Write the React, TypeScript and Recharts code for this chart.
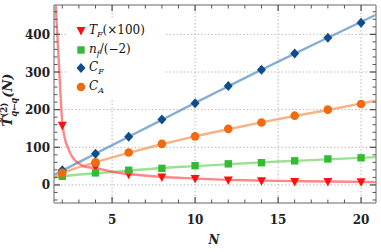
import {
  ComposedChart,
  Legend,
  Line,
  ReferenceLine,
  Scatter,
  XAxis,
  YAxis,
} from "recharts";

// marker points (even N)
const markerN = [2, 4, 6, 8, 10, 12, 14, 16, 18, 20];
const tfMarks = [157, 47, 27, 20, 16, 12, 10, 8, 8, 7];
const nfMarks = [23, 32, 39, 44, 51, 56, 59, 64, 69, 72];
const cfMarks = [39, 83, 128, 174, 217, 263, 306, 349, 391, 431];
const caMarks = [32, 60, 86, 109, 129, 149, 166, 184, 200, 215];

// fitted curves
const fitN = [1.5, 2, 4, 6, 8, 10, 12, 14, 16, 18, 20.9];
const cfFit = [27, 38, 83, 128, 173, 218, 262, 306, 349, 391, 452];
const caFit = [20, 31, 60, 85, 108, 129, 148, 166, 183, 199, 224];
const nfFit = [20, 23, 31, 38, 45, 50, 55, 60, 64, 68, 74];
const tfFitN = [1.5, 1.6, 1.7, 1.8, 1.9, 2, 2.1, 2.2, 2.35, 2.5, 2.75, 3, 3.3, 4, 5, 6, 8, 10, 12, 14, 16, 18, 20.9];
const tfFit = [570, 480, 400, 320, 235, 165, 135, 115, 98, 82, 66, 57, 49, 45, 35, 29, 21, 17, 13.5, 11.5, 10, 9, 7.5];

const xTicks = Array.from({ length: 19 }, (_, i) => i + 2);
const yTicks = Array.from({ length: 26 }, (_, i) => -40 + i * 20);
const xGrid = [5, 10, 15, 20];
const yGrid = [0, 100, 200, 300, 400];

const W = 381;
const H = 252;
const FONT = "DejaVu Serif";
const TICK = "#555";
const FRAME = "#999";

const pts = (xs: number[], ys: number[]) => xs.map((x, i) => ({ x, y: ys[i] }));

const COLORS = {
  tf: { mark: "#ff1010", line: "rgba(255,70,70,0.65)" },
  nf: { mark: "#33bb33", line: "rgba(120,215,110,0.75)" },
  cf: { mark: "#0f4c8a", line: "rgba(80,140,190,0.7)" },
  ca: { mark: "#f06a10", line: "rgba(245,160,100,0.8)" },
};

const DownTri = ({ cx, cy, fill }: any) => (
  <path d={`M${cx - 4.5},${cy - 4} L${cx + 4.5},${cy - 4} L${cx},${cy + 4.5} Z`} fill={fill} />
);
const Sq = ({ cx, cy, fill }: any) => <rect x={cx - 3.7} y={cy - 3.7} width={7.4} height={7.4} fill={fill} />;
const Dia = ({ cx, cy, fill }: any) => (
  <path d={`M${cx},${cy - 5} L${cx + 4.5},${cy} L${cx},${cy + 5} L${cx - 4.5},${cy} Z`} fill={fill} />
);
const Dot = ({ cx, cy, fill }: any) => <circle cx={cx} cy={cy} r={4.3} fill={fill} />;

const tickLen = (major: boolean) => (major ? 6 : 3.5);

// plot box edges (px) — the axes are drawn on these
const PLOT = { left: 54, right: 376, top: 5, bottom: 203 };

const BottomTick = ({ x, payload }: any) => {
  const major = payload.value % 5 === 0;
  const y = PLOT.bottom;
  return (
    <g>
      <line x1={x} x2={x} y1={y} y2={y - tickLen(major)} stroke={TICK} strokeWidth={major ? 1.3 : 1} />
      {major && (
        <text x={x} y={y + 21} textAnchor="middle" fontFamily={FONT} fontWeight="bold" fontSize={12} fill="#222">
          {payload.value}
        </text>
      )}
    </g>
  );
};

const TopTick = ({ x, payload }: any) => {
  const major = payload.value % 5 === 0;
  const y = PLOT.top;
  return <line x1={x} x2={x} y1={y} y2={y + tickLen(major)} stroke={TICK} strokeWidth={major ? 1.3 : 1} />;
};

const LeftTick = ({ y, payload }: any) => {
  const major = payload.value % 100 === 0;
  const x = PLOT.left;
  return (
    <g>
      <line x1={x} x2={x + tickLen(major)} y1={y} y2={y} stroke={TICK} strokeWidth={major ? 1.3 : 1} />
      {major && (
        <text x={x - 4} y={y + 4.5} textAnchor="end" fontFamily={FONT} fontWeight="bold" fontSize={12} fill="#222">
          {payload.value}
        </text>
      )}
    </g>
  );
};

const RightTick = ({ y, payload }: any) => {
  const major = payload.value % 100 === 0;
  const x = PLOT.right;
  return <line x1={x} x2={x - tickLen(major)} y1={y} y2={y} stroke={TICK} strokeWidth={major ? 1.3 : 1} />;
};

const YLabel = () => (
  <text
    transform="translate(12,100) rotate(-90)"
    textAnchor="middle"
    fontFamily={FONT}
    fontWeight="bold"
    fontSize={13}
    fill="#222"
  >
    <tspan fontStyle="italic">T̃</tspan>
    <tspan fontSize={8.5} dy={-5}>(2)</tspan>
    <tspan fontSize={8.5} fontStyle="italic" dx={-14} dy={9.5}>q←q</tspan>
    <tspan dy={-4.5} fontStyle="italic">(N)</tspan>
  </text>
);

const XLabel = () => (
  <text x={214} y={244} textAnchor="middle" fontFamily={FONT} fontWeight="bold" fontStyle="italic" fontSize={12} fill="#222">
    N
  </text>
);

const legendItems = [
  { key: "tf", Icon: DownTri, main: "T", sub: "F", rest: "(×100)" },
  { key: "nf", Icon: Sq, main: "n", sub: "f", rest: "/(−2)" },
  { key: "cf", Icon: Dia, main: "C", sub: "F", rest: "" },
  { key: "ca", Icon: Dot, main: "C", sub: "A", rest: "" },
];

const LegendBox = () => (
  <div style={{ background: "rgba(255,255,255,0.9)", padding: "3px 0" }}>
    {legendItems.map((it) => (
      <div key={it.key} style={{ display: "flex", alignItems: "center", height: 18.6 }}>
        <svg width={20} height={12} style={{ flex: "none" }}>
          <it.Icon cx={14} cy={6} fill={(COLORS as any)[it.key].mark} />
        </svg>
        <span style={{ fontFamily: FONT, fontSize: 12, color: "#111", marginLeft: 2, whiteSpace: "nowrap", lineHeight: "12px" }}>
          <i>{it.main}</i>
          <span style={{ fontSize: 8, fontStyle: "italic", position: "relative", top: 3 }}>{it.sub}</span>
          {it.rest}
        </span>
      </div>
    ))}
  </div>
);

export default function App() {
  return (
    <div style={{ position: "absolute", left: 0, top: 0, width: W, height: H, background: "#fff" }}>
      <ComposedChart width={W} height={H} margin={{ top: 4, right: 4, bottom: 48, left: 53 }}>
        <XAxis
          xAxisId={0}
          dataKey="x"
          type="number"
          domain={[1.5, 20.9]}
          allowDataOverflow
          ticks={xTicks}
          interval={0}
          height={1}
          tickSize={0}
          tickLine={false}
          tick={<BottomTick />}
          axisLine={{ stroke: FRAME, strokeWidth: 1.5 }}
          label={{ content: () => <XLabel /> }}
        />
        <XAxis
          xAxisId="top"
          orientation="top"
          dataKey="x"
          type="number"
          domain={[1.5, 20.9]}
          allowDataOverflow
          ticks={xTicks}
          interval={0}
          height={1}
          tickSize={0}
          tickLine={false}
          tick={<TopTick />}
          axisLine={{ stroke: FRAME, strokeWidth: 1.5 }}
        />
        <YAxis
          yAxisId={0}
          dataKey="y"
          type="number"
          domain={[-48, 478]}
          allowDataOverflow
          ticks={yTicks}
          interval={0}
          width={1}
          tickSize={0}
          tickLine={false}
          tick={<LeftTick />}
          axisLine={{ stroke: FRAME, strokeWidth: 1.5 }}
          label={{ content: () => <YLabel /> }}
        />
        <YAxis
          yAxisId="right"
          orientation="right"
          dataKey="y"
          type="number"
          domain={[-48, 478]}
          allowDataOverflow
          ticks={yTicks}
          interval={0}
          width={1}
          tickSize={0}
          tickLine={false}
          tick={<RightTick />}
          axisLine={{ stroke: FRAME, strokeWidth: 1.5 }}
        />
        {xGrid.map((v) => (
          <ReferenceLine key={`gx${v}`} x={v} stroke="#bbb" strokeDasharray="1.5 2" strokeWidth={1} />
        ))}
        {yGrid.map((v) => (
          <ReferenceLine key={`gy${v}`} y={v} stroke="#bbb" strokeDasharray="1.5 2" strokeWidth={1} />
        ))}

        <Line data={pts(fitN, nfFit)} dataKey="y" type="monotone" stroke={COLORS.nf.line} strokeWidth={2.4} dot={false} isAnimationActive={false} />
        <Line data={pts(fitN, caFit)} dataKey="y" type="monotone" stroke={COLORS.ca.line} strokeWidth={2.4} dot={false} isAnimationActive={false} />
        <Line data={pts(fitN, cfFit)} dataKey="y" type="monotone" stroke={COLORS.cf.line} strokeWidth={2.4} dot={false} isAnimationActive={false} />
        <Line data={pts(tfFitN, tfFit)} dataKey="y" type="monotone" stroke={COLORS.tf.line} strokeWidth={2.4} dot={false} isAnimationActive={false} />

        <Scatter data={pts(markerN, tfMarks)} dataKey="y" fill={COLORS.tf.mark} shape={<DownTri />} isAnimationActive={false} />
        <Scatter data={pts(markerN, nfMarks)} dataKey="y" fill={COLORS.nf.mark} shape={<Sq />} isAnimationActive={false} />
        <Scatter data={pts(markerN, cfMarks)} dataKey="y" fill={COLORS.cf.mark} shape={<Dia />} isAnimationActive={false} />
        <Scatter data={pts(markerN, caMarks)} dataKey="y" fill={COLORS.ca.mark} shape={<Dot />} isAnimationActive={false} />

        <Legend
          layout="vertical"
          align="center"
          verticalAlign="middle"
          content={() => <LegendBox />}
          wrapperStyle={{ left: 67, top: 19, width: 99, height: 80 }}
        />
      </ComposedChart>
    </div>
  );
}
